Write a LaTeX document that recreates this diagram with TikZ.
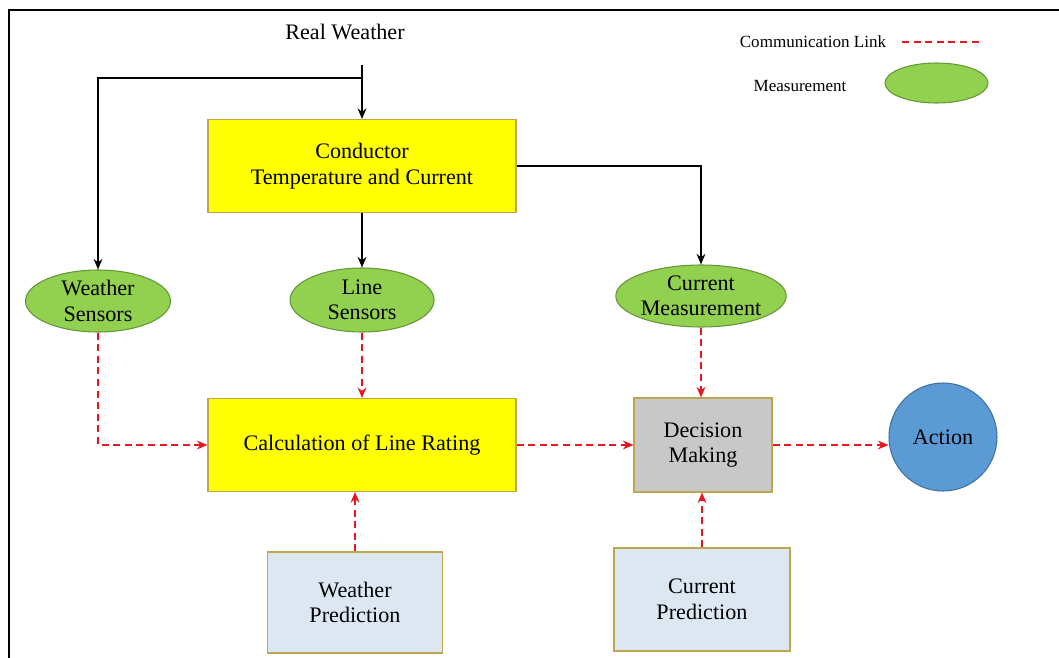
\documentclass[tikz,border=0pt]{standalone}
\usepackage{fontspec}
\setmainfont{Liberation Serif}
\usetikzlibrary{arrows.meta,shapes.geometric}

\definecolor{condyellow}{RGB}{255,255,0}
\definecolor{boxedge}{RGB}{190,165,80}
\definecolor{measgreen}{RGB}{146,208,80}
\definecolor{measedge}{RGB}{100,150,55}
\definecolor{decgrey}{RGB}{200,200,200}
\definecolor{predblue}{RGB}{221,231,242}
\definecolor{actblue}{RGB}{91,155,213}
\definecolor{actedge}{RGB}{65,113,156}
\definecolor{linkred}{RGB}{232,22,30}

\tikzset{>={Stealth[length=6pt,width=5pt]}}
\tikzset{
  box/.style={draw=boxedge,line width=0.6pt,align=center,inner sep=0pt},
  meas/.style={ellipse,draw=measedge,fill=measgreen,line width=0.6pt,align=center,inner sep=0pt},
  flow/.style={->,line width=1pt,black},
  link/.style={->,line width=1pt,linkred,dash pattern=on 4pt off 2.6pt},
}

\begin{document}
\fontsize{12.6}{14.5}\selectfont
\begin{tikzpicture}
  \useasboundingbox (0,0) rectangle (21.18,-13.16);
  \draw[line width=1.2pt] (0.18,-0.20) rectangle (22,-14);
  % legend
  \node[font=\fontsize{9.7}{11}\selectfont] (leglink) at (16.26,-0.84) {Communication Link};
  \coordinate (legA) at (18.04,-0.84);
  \coordinate (legB) at (19.66,-0.84);
  \draw[linkred,line width=1pt,dash pattern=on 4pt off 2.6pt] (legA) -- (legB);
  \node[font=\fontsize{9.7}{11}\selectfont] (legmeas) at (16.0,-1.72) {Measurement};
  \node[meas,minimum width=2.06cm,minimum height=0.80cm] (legell) at (18.73,-1.66) {};
  % nodes
  \node (rw) at (6.90,-0.64) {Real Weather};
  \coordinate (rwend) at (7.24,-1.30);
  \coordinate (split) at (7.24,-1.56);
  \node[box,fill=condyellow,minimum width=6.16cm,minimum height=1.86cm] (cond) at (7.24,-3.32)
    {Conductor\\Temperature and Current};
  \node[meas,minimum width=2.90cm,minimum height=1.24cm] (wsens) at (1.96,-6.02) {Weather\\Sensors};
  \node[meas,minimum width=2.88cm,minimum height=1.28cm] (lsens) at (7.24,-6.00) {Line\\Sensors};
  \node[meas,minimum width=2.88cm,minimum height=1.24cm] (cmeas) at (14.02,-5.92) {Current\\Measurement};
  \node[box,fill=condyellow,minimum width=6.16cm,minimum height=1.86cm] (calc) at (7.24,-8.90)
    {Calculation of Line Rating};
  \node[box,fill=decgrey,minimum width=2.76cm,minimum height=1.88cm] (dec) at (14.06,-8.90)
    {Decision\\Making};
  \node[circle,draw=actedge,fill=actblue,line width=0.6pt,minimum size=2.16cm,inner sep=0pt] (act)
    at (18.86,-8.74) {Action};
  \node[box,fill=predblue,minimum width=3.50cm,minimum height=2.02cm] (wpred) at (7.10,-12.05)
    {Weather\\Prediction};
  \node[box,fill=predblue,minimum width=3.52cm,minimum height=2.06cm] (cpred) at (14.04,-11.99)
    {Current\\Prediction};
  % solid connectors
  \draw[flow] (rwend) -- (cond.north);
  \draw[flow] (split) -| (wsens.north);
  \draw[flow] (cond.south) -- (lsens.north);
  \draw[flow] (cond.east) -| (cmeas.north);
  % communication links
  \draw[link] (wsens.south) |- (calc.west);
  \draw[link] (lsens.south) -- (calc.north);
  \draw[link] (calc.east) -- (dec.west);
  \draw[link] (cmeas.south) -- (cmeas.south |- dec.north);
  \draw[link] (dec.east) -- (dec.east -| act.west);
  \draw[link] (wpred.north) -- (wpred.north |- calc.south);
  \draw[link] (cpred.north) -- (cpred.north |- dec.south);
\end{tikzpicture}
\end{document}
